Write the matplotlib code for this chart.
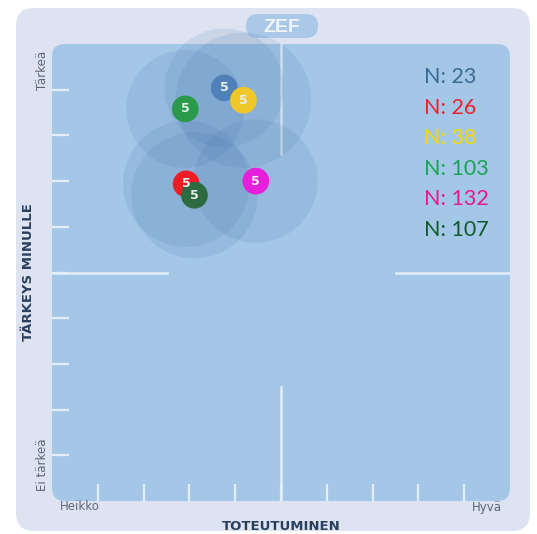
import numpy as np
import matplotlib.pyplot as plt
from matplotlib.patches import FancyBboxPatch, Circle

# group data (0..10 grid, x = toteutuminen, y = tärkeys)
n_vals = [23, 26, 38, 103, 132, 107]
xs = [3.76, 2.93, 4.18, 2.91, 4.45, 3.11]
ys = [9.04, 6.94, 8.77, 8.58, 7.00, 6.69]
spread = [1.30, 1.38, 1.48, 1.29, 1.35, 1.38]
dot_labels = ['5', '5', '5', '5', '5', '5']
dot_colors = ['#4f80b8', '#ee1c24', '#f0c62a', '#2a9a4a', '#e61fdc', '#2d6a40']
txt_colors = ['#3b6a90', '#e8232b', '#f6d800', '#17a452', '#e8178e', '#0f5a2c']

W, H = 537, 534
fig = plt.figure(figsize=(W / 100, H / 100), dpi=100)

def fx(x):
    return x / W

def fy(y):
    return 1 - y / H

# outer pale panel
bg = fig.add_axes([0, 0, 1, 1])
bg.set_xlim(0, W)
bg.set_ylim(H, 0)
bg.axis('off')
bg.add_patch(FancyBboxPatch((16, 8), 514, 523, boxstyle='round,pad=0,rounding_size=18',
                            fc='#dde3f1', ec='none'))

# ZEF pill
bg.add_patch(FancyBboxPatch((246, 14), 72, 24, boxstyle='round,pad=0,rounding_size=12',
                            fc='#aac9e8', ec='none'))
bg.text(282, 27, 'ZEF', color='#f2f6fb', fontsize=14, fontweight='bold',
        ha='center', va='center', family='Liberation Sans')

# main plot area
ax = fig.add_axes([fx(52), fy(501), 458 / W, 457 / H])
ax.set_xlim(0, 10)
ax.set_ylim(0, 10)
ax.patch.set_visible(False)
for s in ax.spines.values():
    s.set_visible(False)
ax.add_patch(FancyBboxPatch((0, 0), 10, 10, boxstyle='round,pad=0,rounding_size=0.28',
                            fc='#a4c7e8', ec='none', zorder=0))

ax.set_xticks(np.arange(1, 10))
ax.set_yticks(np.arange(1, 10))
ax.set_xticklabels([])
ax.set_yticklabels([])
ax.tick_params(direction='in', length=12, width=1.6, color='#e4eef8')

# centre cross
ax.plot([0, 2.5], [5, 5], color='#e4eef8', lw=1.8, zorder=1)
ax.plot([7.5, 10], [5, 5], color='#e4eef8', lw=1.8, zorder=1)
ax.plot([5, 5], [0, 2.5], color='#e4eef8', lw=1.8, zorder=1)
ax.plot([5, 5], [7.6, 10], color='#e4eef8', lw=1.8, zorder=1)

# spread circles
for x, y, r in zip(xs, ys, spread):
    ax.add_patch(Circle((x, y), r, fc='#3a6aa3', ec='none', alpha=0.12,
                        zorder=2, clip_on=False))

# dots with labels
for x, y, c, lab in zip(xs, ys, dot_colors, dot_labels):
    ax.scatter([x], [y], s=370, color=c, zorder=4, edgecolors='none', clip_on=False)
    ax.text(x, y, lab, color='#e8f0f0', fontsize=9, fontweight='bold',
            ha='center', va='center', zorder=5, family='DejaVu Sans')

# N legend
for i, (n, c) in enumerate(zip(n_vals, txt_colors)):
    fig.text(fx(424), fy(77 + i * 30.6), 'N: %d' % n, color=c, fontsize=15.5,
             ha='left', va='center', family='Lato')

# axis texts
lab_col = '#5d6678'
fig.text(fx(42), fy(70), 'Tärkeä', rotation=90, color=lab_col, fontsize=8.5,
         ha='center', va='center', family='DejaVu Sans')
fig.text(fx(42), fy(465), 'Ei tärkeä', rotation=90, color=lab_col, fontsize=8.5,
         ha='center', va='center', family='DejaVu Sans')
fig.text(fx(29), fy(272), 'TÄRKEYS MINULLE', rotation=90, color='#283f5e', fontsize=9.5,
         fontweight='bold', ha='center', va='center', family='DejaVu Sans')
fig.text(fx(80), fy(507), 'Heikko', color=lab_col, fontsize=8.5,
         ha='center', va='center', family='DejaVu Sans')
fig.text(fx(487), fy(507), 'Hyvä', color=lab_col, fontsize=8.5,
         ha='center', va='center', family='DejaVu Sans')
fig.text(fx(281), fy(527), 'TOTEUTUMINEN', color='#283f5e', fontsize=9.5,
         fontweight='bold', ha='center', va='center', family='DejaVu Sans')

fig.savefig('out.png', dpi=100)
